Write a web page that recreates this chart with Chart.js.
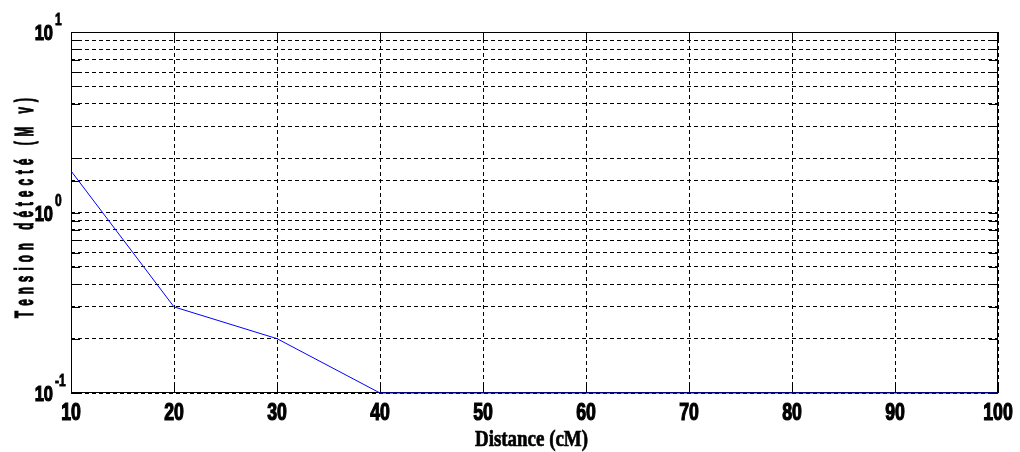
<!DOCTYPE html>
<html>
<head>
<meta charset="utf-8">
<script src="https://cdn.jsdelivr.net/npm/chart.js@4.4.1/dist/chart.umd.min.js"></script>
<style>
  html, body { margin: 0; padding: 0; background: #fff; }
  #wrap { width: 1020px; height: 452px; position: relative; }
</style>
</head>
<body>
<div id="wrap"><canvas id="chart"></canvas></div>
<script>
// data
const distance = [10, 20, 30, 40, 50, 60, 70, 80, 90, 100];
const tension = [1.7, 0.3, 0.2, 0.1, 0.1, 0.1, 0.1, 0.1, 0.1, 0.1];

// y tick labels (powers of ten)
const decadeValues = [0.1, 1, 10];
const decadeExponents = ['-1', '0', '1'];

const xTitle = 'Distance (cM)';
const yTitle = 'Tension détecté (M v)';

const sans = '"Liberation Sans", Arial, sans-serif';

// text squeezed horizontally and a bit heavier, like the narrow bold font of the picture
function squeezed(ctx, text, x, y, font, sx, align, baseline, heavy) {
    ctx.save();
    ctx.font = font;
    ctx.textBaseline = baseline;
    ctx.textAlign = 'left';
    const w = ctx.measureText(text).width * sx;
    let left = x;
    if (align === 'center') left = x - w / 2;
    if (align === 'right') left = x - w;
    ctx.translate(left, y);
    ctx.scale(sx, 1);
    ctx.fillText(text, 0, 0);
    if (heavy) {
        ctx.lineWidth = heavy;
        ctx.strokeStyle = '#000';
        ctx.strokeText(text, 0, 0);
    }
    ctx.restore();
}

const decorPlugin = {
    id: 'decor',
    // frame and inward ticks go under the line
    beforeDatasetsDraw(chart) {
        const { ctx, chartArea: a, scales: { x, y } } = chart;
        ctx.save();
        ctx.strokeStyle = '#000';
        ctx.lineWidth = 1;
        ctx.strokeRect(a.left + 0.5, a.top + 0.5, a.right - a.left - 1, a.bottom - a.top - 1);
        ctx.beginPath();
        x.ticks.forEach(t => {
            const px = Math.round(x.getPixelForValue(t.value)) + 0.5;
            ctx.moveTo(px, a.bottom); ctx.lineTo(px, a.bottom - 9);
            ctx.moveTo(px, a.top); ctx.lineTo(px, a.top + 9);
        });
        y.ticks.forEach(t => {
            const py = Math.round(y.getPixelForValue(t.value)) + 0.5;
            ctx.moveTo(a.left, py); ctx.lineTo(a.left + 9, py);
            ctx.moveTo(a.right, py); ctx.lineTo(a.right - 9, py);
        });
        ctx.stroke();
        ctx.restore();
    },
    afterDraw(chart) {
        const { ctx, chartArea: a, scales: { x, y } } = chart;
        ctx.save();
        ctx.fillStyle = '#000';

        // x tick labels
        x.ticks.forEach(t => {
            squeezed(ctx, String(t.value), x.getPixelForValue(t.value), 420,
                'bold 23px ' + sans, 0.77, 'center', 'alphabetic', 1.2);
        });

        // 10^n labels
        decadeValues.forEach((v, i) => {
            const py = y.getPixelForValue(v);
            squeezed(ctx, '10', 53, py + 8, 'bold 22px ' + sans, 0.75, 'right', 'alphabetic', 1.2);
            squeezed(ctx, decadeExponents[i], 55, py - 7, 'bold 16px ' + sans, 0.75, 'left', 'alphabetic', 0.8);
        });

        // x title, condensed serif
        ctx.save();
        ctx.font = 'bold 24px "Liberation Serif", "Times New Roman", serif';
        const xw = ctx.measureText(xTitle).width;
        ctx.translate((a.left + a.right) / 2 - 3, 446);
        ctx.scale(113 / xw, 1);
        ctx.textAlign = 'center';
        ctx.textBaseline = 'alphabetic';
        ctx.fillText(xTitle, 0, 0);
        ctx.lineWidth = 0.7;
        ctx.strokeStyle = '#000';
        ctx.strokeText(xTitle, 0, 0);
        ctx.restore();

        // y title, rotated, tall narrow letters spread out
        ctx.save();
        ctx.translate(33, 208);
        ctx.rotate(-Math.PI / 2);
        ctx.font = 'bold 26px ' + sans;
        ctx.textAlign = 'left';
        ctx.textBaseline = 'alphabetic';
        ctx.strokeStyle = '#000';
        ctx.lineWidth = 1.2;
        const sx = 0.45;
        const chars = [...yTitle];
        const widths = chars.map(c => ctx.measureText(c).width * sx);
        const total = 220;
        const used = widths.reduce((s, w) => s + w, 0);
        const gap = (total - used) / (chars.length - 1);
        let cx = -total / 2;
        chars.forEach((c, i) => {
            ctx.save();
            ctx.translate(cx, 0);
            ctx.scale(sx, 1);
            ctx.fillText(c, 0, 0);
            ctx.strokeText(c, 0, 0);
            ctx.restore();
            cx += widths[i] + gap;
        });
        ctx.restore();

        ctx.restore();
    }
};

new Chart(document.getElementById('chart'), {
    type: 'line',
    data: {
        labels: distance,
        datasets: [{
            data: distance.map((d, i) => ({ x: d, y: tension[i] })),
            borderColor: '#0000ff',
            borderWidth: 1,
            pointRadius: 0,
            tension: 0,
            fill: false,
            clip: 3
        }]
    },
    options: {
        responsive: true,
        maintainAspectRatio: false,
        animation: false,
        events: [],
        layout: { padding: { top: 32, right: 22, left: 0, bottom: 0 } },
        plugins: {
            legend: { display: false },
            tooltip: { enabled: false }
        },
        scales: {
            x: {
                type: 'linear',
                min: 10,
                max: 100,
                afterFit: s => { s.height = 59; s.paddingLeft = 0; s.paddingRight = 0; },
                ticks: { stepSize: 10, display: false },
                grid: { color: '#000', lineWidth: 1, drawTicks: false },
                border: { display: false, dash: [4, 3] }
            },
            y: {
                type: 'logarithmic',
                min: 0.1,
                max: 10,
                afterFit: s => { s.width = 71; s.paddingTop = 0; s.paddingBottom = 0; },
                ticks: { display: false },
                grid: { color: '#000', lineWidth: 1, drawTicks: false },
                border: { display: false, dash: [4, 3] }
            }
        }
    },
    plugins: [decorPlugin]
});
</script>
</body>
</html>
